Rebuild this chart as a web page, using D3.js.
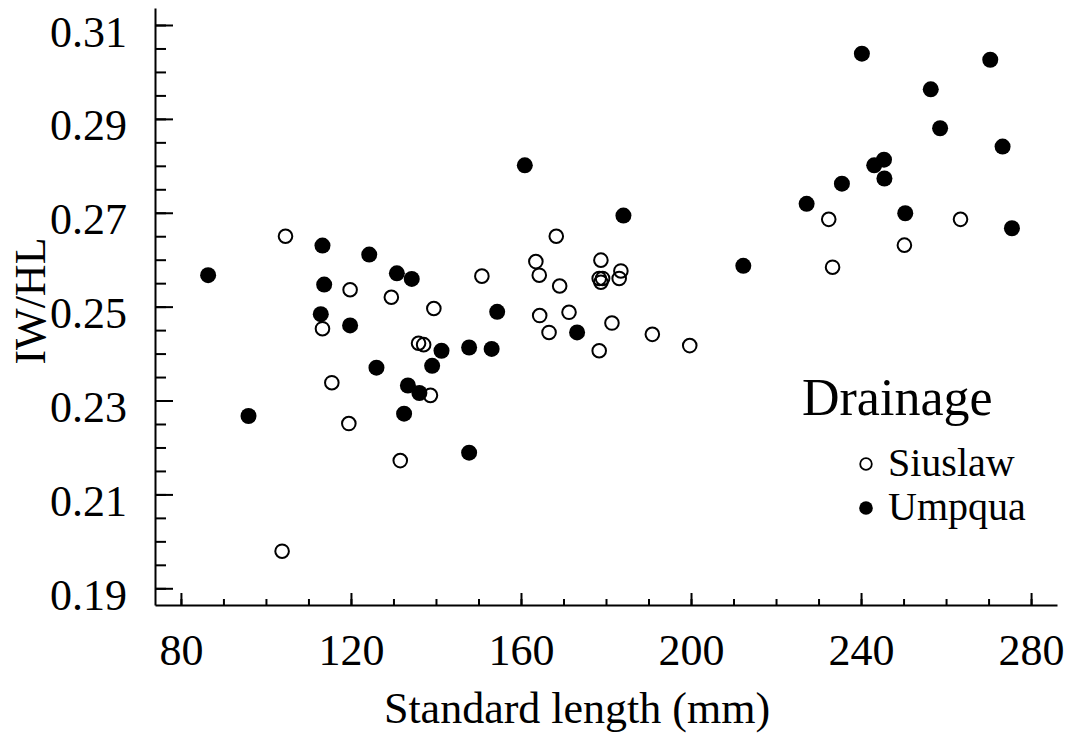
<!DOCTYPE html>
<html>
<head>
<meta charset="utf-8">
<script src="https://cdn.jsdelivr.net/npm/d3@7"></script>
<style>
  body { margin: 0; background: #fff; }
  text { font-family: "Liberation Serif", "Times New Roman", serif; fill: #000; }
</style>
</head>
<body>
<div id="plot"></div>
<script>
const w = 1067
const h = 742

// Siuslaw drainage (open circles)
const siuslawLength = [103.8, 104.6, 113.3, 115.5, 119.5, 119.8, 129.5, 131.6, 135.9, 137.1,
  138.7, 139.5, 150.8, 163.5, 164.3, 164.4, 166.6, 168.3, 169.1, 171.3,
  178.4, 178.8, 178.4, 179.2, 178.8, 181.4, 183.5, 183.1, 190.9, 199.7,
  232.4, 233.3, 250.2, 263.4]
const siuslawRatio = [0.1979, 0.2650, 0.2453, 0.2338, 0.2251, 0.2536, 0.2520, 0.2172, 0.2422, 0.2419,
  0.2311, 0.2496, 0.2565, 0.2596, 0.2567, 0.2481, 0.2445, 0.2650, 0.2544, 0.2488,
  0.2406, 0.2599, 0.2560, 0.2560, 0.2552, 0.2465, 0.2576, 0.2560, 0.2441, 0.2417,
  0.2686, 0.2584, 0.2631, 0.2686]

// Umpqua drainage (filled circles)
const umpquaLength = [86.4, 95.9, 113.3, 113.7, 112.9, 119.8, 124.3, 126.0, 130.8, 134.3,
  133.4, 136.1, 132.5, 139.1, 141.3, 147.8, 153.1, 154.4, 147.8, 160.9,
  173.2, 184.1, 212.3, 227.2, 235.5, 243.1, 245.4, 245.5, 250.4, 240.2,
  256.4, 258.6, 270.4, 273.3, 275.5]
const umpquaRatio = [0.2567, 0.2267, 0.2630, 0.2547, 0.2484, 0.2460, 0.2611, 0.2370, 0.2571, 0.2559,
  0.2332, 0.2316, 0.2272, 0.2374, 0.2406, 0.2413, 0.2410, 0.2489, 0.2189, 0.2801,
  0.2445, 0.2694, 0.2587, 0.2719, 0.2762, 0.2801, 0.2813, 0.2773, 0.2699, 0.3039,
  0.2963, 0.2880, 0.3026, 0.2841, 0.2667]

// Tick values
const xMajor = [80, 120, 160, 200, 240, 280]
const xMinor = d3.range(80, 281, 10)
const yMajor = [0.19, 0.21, 0.23, 0.25, 0.27, 0.29, 0.31]
const yMinor = d3.range(0, 25).map(i => 0.19 + i * 0.005)

const legendItems = ["Siuslaw", "Umpqua"]

const svg = d3.select("#plot")
  .append("svg")
    .attr("width", w)
    .attr("height", h)

svg.append("rect").attr("width", w).attr("height", h).attr("fill", "#fff")

// Scales (axes run slightly past the end ticks)
const xScale = d3.scaleLinear().domain([73.9, 286.1]).range([155, 1057])
const yScale = d3.scaleLinear().domain([0.18644, 0.31362]).range([605, 8])

// --- Axes ---
const xAxisG = svg.append("g").attr("transform", "translate(0,605)")
xAxisG.call(d3.axisBottom(xScale).tickValues(xMinor).tickSize(-6).tickFormat("").tickSizeOuter(0))
xAxisG.append("g")
  .call(d3.axisBottom(xScale).tickValues(xMajor).tickSize(-12).tickSizeOuter(0))
  .call(g => g.select(".domain").remove())
  .call(g => g.selectAll("text")
    .attr("y", 60).attr("dy", 0)
    .style("font-size", "44px")
    .style("font-family", "Liberation Serif"))

const yAxisG = svg.append("g").attr("transform", "translate(155,0)")
yAxisG.call(d3.axisLeft(yScale).tickValues(yMinor).tickSize(-11).tickFormat("").tickSizeOuter(0))
yAxisG.append("g")
  .call(d3.axisLeft(yScale).tickValues(yMajor).tickSize(-18).tickPadding(28).tickFormat(d3.format(".2f")).tickSizeOuter(0))
  .call(g => g.select(".domain").remove())
  .call(g => g.selectAll("text")
    .attr("y", 7)
    .style("font-size", "44px")
    .style("font-family", "Liberation Serif"))

svg.selectAll(".domain, .tick line").attr("stroke", "#000").attr("stroke-width", 2)

// Axis titles
svg.append("text")
  .attr("x", 577).attr("y", 723)
  .attr("text-anchor", "middle")
  .style("font-size", "44px")
  .text("Standard length (mm)")

svg.append("text")
  .attr("transform", "translate(45,301) rotate(-90)")
  .attr("text-anchor", "middle")
  .style("font-size", "44px")
  .text("IW/HL")

// --- Points ---
svg.append("g").selectAll("circle")
  .data(umpquaLength)
  .join("circle")
    .attr("cx", d => xScale(d))
    .attr("cy", (d, i) => yScale(umpquaRatio[i]))
    .attr("r", 8)
    .attr("fill", "#000")

svg.append("g").selectAll("circle")
  .data(siuslawLength)
  .join("circle")
    .attr("cx", d => xScale(d))
    .attr("cy", (d, i) => yScale(siuslawRatio[i]))
    .attr("r", 6.8)
    .attr("fill", "none")
    .attr("stroke", "#000")
    .attr("stroke-width", 2)

// --- Legend ---
const legend = svg.append("g")
legend.append("text")
  .attr("x", 802).attr("y", 415)
  .style("font-size", "52px")
  .text("Drainage")

legendItems.forEach((name, i) => {
  const yy = 464 + i * 44
  legend.append("circle")
    .attr("cx", 866).attr("cy", yy)
    .attr("r", i === 0 ? 5.8 : 6.8)
    .attr("fill", i === 0 ? "none" : "#000")
    .attr("stroke", "#000")
    .attr("stroke-width", i === 0 ? 1.8 : 0)
  legend.append("text")
    .attr("x", 888).attr("y", yy + 12)
    .style("font-size", "40px")
    .text(name)
})
</script>
</body>
</html>
